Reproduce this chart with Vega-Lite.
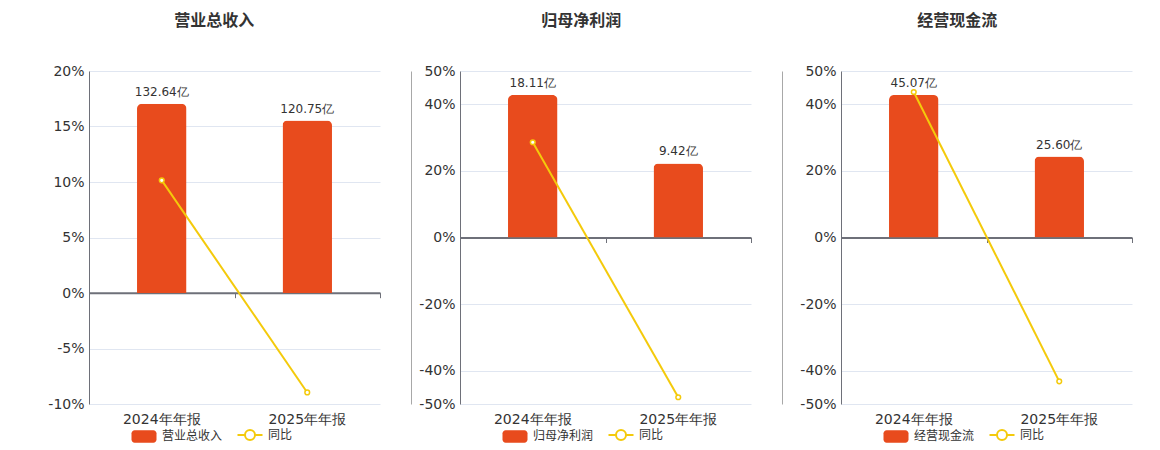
{
  "$schema": "https://vega.github.io/schema/vega-lite/v6.json",
  "padding": {"left": 47, "top": 13, "right": 10, "bottom": 0},
  "background": "white",
  "datasets": {
    "revenue": [
      {"period": "2024年年报", "value": 132.64, "yoy": 10.15},
      {"period": "2025年年报", "value": 120.75, "yoy": -8.96}
    ],
    "profit": [
      {"period": "2024年年报", "value": 18.11, "yoy": 28.6},
      {"period": "2025年年报", "value": 9.42, "yoy": -47.98}
    ],
    "cashflow": [
      {"period": "2024年年报", "value": 45.07, "yoy": 43.7},
      {"period": "2025年年报", "value": 25.60, "yoy": -43.2}
    ]
  },
  "config": {
    "view": {"stroke": null},
    "font": "DejaVu Sans",
    "axis": {"labelFont": "DejaVu Sans", "labelColor": "#333333", "title": null},
    "legend": {"labelFont": "Noto Sans CJK SC", "labelFontSize": 12, "labelColor": "#333333"}
  },
  "hconcat": [
    {
      "title": {"text": "营业总收入", "font": "Noto Sans CJK SC", "fontSize": 16, "fontWeight": "bold", "color": "#333333", "anchor": "middle", "frame": "bounds", "offset": 35},
      "width": 291,
      "height": 333,
      "data": {"name": "revenue"},
      "transform": [{"calculate": "format(datum.value, '.2f') + '亿'", "as": "label"}],
      "layer": [
        {
          "layer": [
            {
              "mark": {"type": "bar", "width": {"band": 0.34}, "cornerRadiusTopLeft": 5, "cornerRadiusTopRight": 5},
              "encoding": {
                "x": {"field": "period", "type": "nominal", "sort": null, "scale": {"paddingInner": 0, "paddingOuter": 0},
                  "axis": {"orient": "bottom", "domain": false, "ticks": false, "labelAngle": 0, "labelFontSize": 14, "labelFont": "DejaVu Sans", "labelPadding": 8}},
                "y": {"field": "value", "type": "quantitative", "scale": {"domain": [-77.75, 155.5], "nice": false, "zero": false}, "axis": null},
                "color": {"datum": "营业总收入", "type": "nominal",
                  "scale": {"domain": ["营业总收入", "同比"], "range": ["#E84B1D", "#F4CA0B"]},
                  "legend": {"title": null, "orient": "none", "legendX": 49, "legendY": 358, "direction": "horizontal", "symbolSize": 625, "columnPadding": 10, "labelOffset": 12,
                    "encode": {"symbols": {"update": {
                      "shape": {"signal": "datum.value === '同比' ? 'M-1,0H-0.4M0.4,0H1M0.4,0A0.4,0.4 0 1 1 -0.4,0A0.4,0.4 0 1 1 0.4,0' : 'M-0.75,-0.5H0.75A0.25,0.25 0 0 1 1,-0.25V0.25A0.25,0.25 0 0 1 0.75,0.5H-0.75A0.25,0.25 0 0 1 -1,0.25V-0.25A0.25,0.25 0 0 1 -0.75,-0.5Z'"},
                      "fill": {"signal": "datum.value === '同比' ? '#ffffff' : '#E84B1D'"},
                      "fillOpacity": {"signal": "datum.value === '同比' ? 0 : 1"},
                      "stroke": {"signal": "datum.value === '同比' ? '#F4CA0B' : '#E84B1D'"},
                      "strokeWidth": {"signal": "datum.value === '同比' ? 2 : 0"},
                      "opacity": {"value": 1}
                    }}}}
                }
              }
            },
            {
              "mark": {"type": "text", "baseline": "bottom", "dy": -5, "fontSize": 12, "color": "#333333", "font": "DejaVu Sans"},
              "encoding": {
                "x": {"field": "period", "type": "nominal", "sort": null},
                "y": {"field": "value", "type": "quantitative", "scale": {"domain": [-77.75, 155.5], "nice": false, "zero": false}},
                "text": {"field": "label"}
              }
            }
          ]
        },
        {
          "layer": [
            {
              "mark": {"type": "line", "strokeWidth": 2},
              "encoding": {
                "x": {"field": "period", "type": "nominal", "sort": null,
                  "axis": {"orient": "bottom", "offset": -111.3, "labels": false, "domain": true, "domainColor": "#6E7079", "domainWidth": 2, "ticks": true, "tickBand": "extent", "tickColor": "#6E7079", "tickSize": 5, "grid": false}},
                "y": {"field": "yoy", "type": "quantitative", "scale": {"domain": [-10, 20], "nice": false, "zero": false},
                  "axis": {"orient": "left", "values": [-10, -5, 0, 5, 10, 15, 20], "labelExpr": "datum.value + '%'", "labelFontSize": 14, "labelPadding": 5, "ticks": false, "domain": true, "domainColor": "#6E7079", "grid": true, "gridColor": "#E0E6F1"}},
                "color": {"datum": "同比", "type": "nominal",
                  "legend": {"title": null, "orient": "none", "legendX": 49, "legendY": 358, "direction": "horizontal", "symbolSize": 625, "columnPadding": 10, "labelOffset": 12,
                    "encode": {"symbols": {"update": {
                      "shape": {"signal": "datum.value === '同比' ? 'M-1,0H-0.4M0.4,0H1M0.4,0A0.4,0.4 0 1 1 -0.4,0A0.4,0.4 0 1 1 0.4,0' : 'M-0.75,-0.5H0.75A0.25,0.25 0 0 1 1,-0.25V0.25A0.25,0.25 0 0 1 0.75,0.5H-0.75A0.25,0.25 0 0 1 -1,0.25V-0.25A0.25,0.25 0 0 1 -0.75,-0.5Z'"},
                      "fill": {"signal": "datum.value === '同比' ? '#ffffff' : '#E84B1D'"},
                      "fillOpacity": {"signal": "datum.value === '同比' ? 0 : 1"},
                      "stroke": {"signal": "datum.value === '同比' ? '#F4CA0B' : '#E84B1D'"},
                      "strokeWidth": {"signal": "datum.value === '同比' ? 2 : 0"},
                      "opacity": {"value": 1}
                    }}}}}
              }
            },
            {
              "mark": {"type": "point", "filled": true, "fill": "#ffffff", "stroke": "#F4CA0B", "strokeWidth": 1.5, "size": 22, "opacity": 1},
              "encoding": {
                "x": {"field": "period", "type": "nominal", "sort": null},
                "y": {"field": "yoy", "type": "quantitative"}
              }
            }
          ]
        }
      ],
      "resolve": {"scale": {"y": "independent"}, "axis": {"x": "independent"}}
    },
    {
      "title": {"text": "归母净利润", "font": "Noto Sans CJK SC", "fontSize": 16, "fontWeight": "bold", "color": "#333333", "anchor": "middle", "frame": "bounds", "offset": 35},
      "width": 291,
      "height": 333,
      "data": {"name": "profit"},
      "transform": [{"calculate": "format(datum.value, '.2f') + '亿'", "as": "label"}],
      "layer": [
        {
          "layer": [
            {
              "mark": {"type": "bar", "width": {"band": 0.34}, "cornerRadiusTopLeft": 5, "cornerRadiusTopRight": 5},
              "encoding": {
                "x": {"field": "period", "type": "nominal", "sort": null, "scale": {"paddingInner": 0, "paddingOuter": 0},
                  "axis": {"orient": "bottom", "domain": false, "ticks": false, "labelAngle": 0, "labelFontSize": 14, "labelFont": "DejaVu Sans", "labelPadding": 8}},
                "y": {"field": "value", "type": "quantitative", "scale": {"domain": [-21.16, 21.16], "nice": false, "zero": false},
                  "axis": {"orient": "left", "offset": 49, "labels": false, "ticks": false, "grid": false, "domain": true, "domainColor": "#A8A8A8", "domainWidth": 1}},
                "color": {"datum": "归母净利润", "type": "nominal",
                  "scale": {"domain": ["归母净利润", "同比"], "range": ["#E84B1D", "#F4CA0B"]},
                  "legend": {"title": null, "orient": "none", "legendX": 49, "legendY": 358, "direction": "horizontal", "symbolSize": 625, "columnPadding": 10, "labelOffset": 12,
                    "encode": {"symbols": {"update": {
                      "shape": {"signal": "datum.value === '同比' ? 'M-1,0H-0.4M0.4,0H1M0.4,0A0.4,0.4 0 1 1 -0.4,0A0.4,0.4 0 1 1 0.4,0' : 'M-0.75,-0.5H0.75A0.25,0.25 0 0 1 1,-0.25V0.25A0.25,0.25 0 0 1 0.75,0.5H-0.75A0.25,0.25 0 0 1 -1,0.25V-0.25A0.25,0.25 0 0 1 -0.75,-0.5Z'"},
                      "fill": {"signal": "datum.value === '同比' ? '#ffffff' : '#E84B1D'"},
                      "fillOpacity": {"signal": "datum.value === '同比' ? 0 : 1"},
                      "stroke": {"signal": "datum.value === '同比' ? '#F4CA0B' : '#E84B1D'"},
                      "strokeWidth": {"signal": "datum.value === '同比' ? 2 : 0"},
                      "opacity": {"value": 1}
                    }}}}
                }
              }
            },
            {
              "mark": {"type": "text", "baseline": "bottom", "dy": -5, "fontSize": 12, "color": "#333333", "font": "DejaVu Sans"},
              "encoding": {
                "x": {"field": "period", "type": "nominal", "sort": null},
                "y": {"field": "value", "type": "quantitative", "scale": {"domain": [-21.16, 21.16], "nice": false, "zero": false}},
                "text": {"field": "label"}
              }
            }
          ]
        },
        {
          "layer": [
            {
              "mark": {"type": "line", "strokeWidth": 2},
              "encoding": {
                "x": {"field": "period", "type": "nominal", "sort": null,
                  "axis": {"orient": "bottom", "offset": -166.5, "labels": false, "domain": true, "domainColor": "#6E7079", "domainWidth": 2, "ticks": true, "tickBand": "extent", "tickColor": "#6E7079", "tickSize": 5, "grid": false}},
                "y": {"field": "yoy", "type": "quantitative", "scale": {"domain": [-50, 50], "nice": false, "zero": false},
                  "axis": {"orient": "left", "values": [-50, -40, -20, 0, 20, 40, 50], "labelExpr": "datum.value + '%'", "labelFontSize": 14, "labelPadding": 5, "ticks": false, "domain": true, "domainColor": "#6E7079", "grid": true, "gridColor": "#E0E6F1"}},
                "color": {"datum": "同比", "type": "nominal",
                  "legend": {"title": null, "orient": "none", "legendX": 49, "legendY": 358, "direction": "horizontal", "symbolSize": 625, "columnPadding": 10, "labelOffset": 12,
                    "encode": {"symbols": {"update": {
                      "shape": {"signal": "datum.value === '同比' ? 'M-1,0H-0.4M0.4,0H1M0.4,0A0.4,0.4 0 1 1 -0.4,0A0.4,0.4 0 1 1 0.4,0' : 'M-0.75,-0.5H0.75A0.25,0.25 0 0 1 1,-0.25V0.25A0.25,0.25 0 0 1 0.75,0.5H-0.75A0.25,0.25 0 0 1 -1,0.25V-0.25A0.25,0.25 0 0 1 -0.75,-0.5Z'"},
                      "fill": {"signal": "datum.value === '同比' ? '#ffffff' : '#E84B1D'"},
                      "fillOpacity": {"signal": "datum.value === '同比' ? 0 : 1"},
                      "stroke": {"signal": "datum.value === '同比' ? '#F4CA0B' : '#E84B1D'"},
                      "strokeWidth": {"signal": "datum.value === '同比' ? 2 : 0"},
                      "opacity": {"value": 1}
                    }}}}}
              }
            },
            {
              "mark": {"type": "point", "filled": true, "fill": "#ffffff", "stroke": "#F4CA0B", "strokeWidth": 1.5, "size": 22, "opacity": 1},
              "encoding": {
                "x": {"field": "period", "type": "nominal", "sort": null},
                "y": {"field": "yoy", "type": "quantitative"}
              }
            }
          ]
        }
      ],
      "resolve": {"scale": {"y": "independent"}, "axis": {"x": "independent"}}
    },
    {
      "title": {"text": "经营现金流", "font": "Noto Sans CJK SC", "fontSize": 16, "fontWeight": "bold", "color": "#333333", "anchor": "middle", "frame": "bounds", "offset": 35},
      "width": 291,
      "height": 333,
      "data": {"name": "cashflow"},
      "transform": [{"calculate": "format(datum.value, '.2f') + '亿'", "as": "label"}],
      "layer": [
        {
          "layer": [
            {
              "mark": {"type": "bar", "width": {"band": 0.34}, "cornerRadiusTopLeft": 5, "cornerRadiusTopRight": 5},
              "encoding": {
                "x": {"field": "period", "type": "nominal", "sort": null, "scale": {"paddingInner": 0, "paddingOuter": 0},
                  "axis": {"orient": "bottom", "domain": false, "ticks": false, "labelAngle": 0, "labelFontSize": 14, "labelFont": "DejaVu Sans", "labelPadding": 8}},
                "y": {"field": "value", "type": "quantitative", "scale": {"domain": [-52.65, 52.65], "nice": false, "zero": false},
                  "axis": {"orient": "left", "offset": 59, "labels": false, "ticks": false, "grid": false, "domain": true, "domainColor": "#A8A8A8", "domainWidth": 1}},
                "color": {"datum": "经营现金流", "type": "nominal",
                  "scale": {"domain": ["经营现金流", "同比"], "range": ["#E84B1D", "#F4CA0B"]},
                  "legend": {"title": null, "orient": "none", "legendX": 49, "legendY": 358, "direction": "horizontal", "symbolSize": 625, "columnPadding": 10, "labelOffset": 12,
                    "encode": {"symbols": {"update": {
                      "shape": {"signal": "datum.value === '同比' ? 'M-1,0H-0.4M0.4,0H1M0.4,0A0.4,0.4 0 1 1 -0.4,0A0.4,0.4 0 1 1 0.4,0' : 'M-0.75,-0.5H0.75A0.25,0.25 0 0 1 1,-0.25V0.25A0.25,0.25 0 0 1 0.75,0.5H-0.75A0.25,0.25 0 0 1 -1,0.25V-0.25A0.25,0.25 0 0 1 -0.75,-0.5Z'"},
                      "fill": {"signal": "datum.value === '同比' ? '#ffffff' : '#E84B1D'"},
                      "fillOpacity": {"signal": "datum.value === '同比' ? 0 : 1"},
                      "stroke": {"signal": "datum.value === '同比' ? '#F4CA0B' : '#E84B1D'"},
                      "strokeWidth": {"signal": "datum.value === '同比' ? 2 : 0"},
                      "opacity": {"value": 1}
                    }}}}
                }
              }
            },
            {
              "mark": {"type": "text", "baseline": "bottom", "dy": -5, "fontSize": 12, "color": "#333333", "font": "DejaVu Sans"},
              "encoding": {
                "x": {"field": "period", "type": "nominal", "sort": null},
                "y": {"field": "value", "type": "quantitative", "scale": {"domain": [-52.65, 52.65], "nice": false, "zero": false}},
                "text": {"field": "label"}
              }
            }
          ]
        },
        {
          "layer": [
            {
              "mark": {"type": "line", "strokeWidth": 2},
              "encoding": {
                "x": {"field": "period", "type": "nominal", "sort": null,
                  "axis": {"orient": "bottom", "offset": -166.5, "labels": false, "domain": true, "domainColor": "#6E7079", "domainWidth": 2, "ticks": true, "tickBand": "extent", "tickColor": "#6E7079", "tickSize": 5, "grid": false}},
                "y": {"field": "yoy", "type": "quantitative", "scale": {"domain": [-50, 50], "nice": false, "zero": false},
                  "axis": {"orient": "left", "values": [-50, -40, -20, 0, 20, 40, 50], "labelExpr": "datum.value + '%'", "labelFontSize": 14, "labelPadding": 5, "ticks": false, "domain": true, "domainColor": "#6E7079", "grid": true, "gridColor": "#E0E6F1"}},
                "color": {"datum": "同比", "type": "nominal",
                  "legend": {"title": null, "orient": "none", "legendX": 49, "legendY": 358, "direction": "horizontal", "symbolSize": 625, "columnPadding": 10, "labelOffset": 12,
                    "encode": {"symbols": {"update": {
                      "shape": {"signal": "datum.value === '同比' ? 'M-1,0H-0.4M0.4,0H1M0.4,0A0.4,0.4 0 1 1 -0.4,0A0.4,0.4 0 1 1 0.4,0' : 'M-0.75,-0.5H0.75A0.25,0.25 0 0 1 1,-0.25V0.25A0.25,0.25 0 0 1 0.75,0.5H-0.75A0.25,0.25 0 0 1 -1,0.25V-0.25A0.25,0.25 0 0 1 -0.75,-0.5Z'"},
                      "fill": {"signal": "datum.value === '同比' ? '#ffffff' : '#E84B1D'"},
                      "fillOpacity": {"signal": "datum.value === '同比' ? 0 : 1"},
                      "stroke": {"signal": "datum.value === '同比' ? '#F4CA0B' : '#E84B1D'"},
                      "strokeWidth": {"signal": "datum.value === '同比' ? 2 : 0"},
                      "opacity": {"value": 1}
                    }}}}}
              }
            },
            {
              "mark": {"type": "point", "filled": true, "fill": "#ffffff", "stroke": "#F4CA0B", "strokeWidth": 1.5, "size": 22, "opacity": 1},
              "encoding": {
                "x": {"field": "period", "type": "nominal", "sort": null},
                "y": {"field": "yoy", "type": "quantitative"}
              }
            }
          ]
        }
      ],
      "resolve": {"scale": {"y": "independent"}, "axis": {"x": "independent"}}
    }
  ],
  "spacing": 30,
  "resolve": {"scale": {"color": "independent"}, "legend": {"color": "independent"}}
}
